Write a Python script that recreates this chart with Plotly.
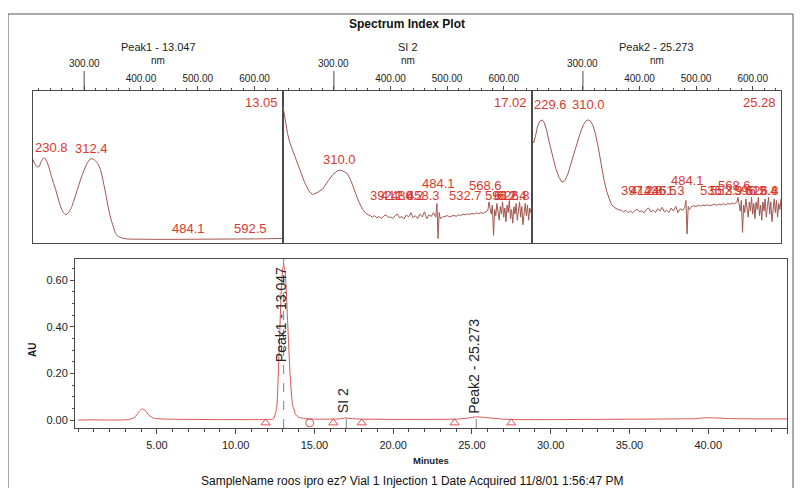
import plotly.graph_objects as go

# page margin of 8px on every side, so the figure is 16px smaller than the window
OFF = 8
W, H = 802 - 2 * OFF, 496 - 2 * OFF

# ---- chromatogram (minutes, AU) ----
chrom_min = [0, 1, 2, 3, 3.3, 3.6, 3.85, 4.05, 4.25, 4.5, 4.8, 5.5, 7, 9, 11, 12, 12.4, 12.6,
             12.75, 12.9, 13.0, 13.05, 13.15, 13.3, 13.45, 13.6, 13.8, 14.0, 14.3, 15, 16,
             16.6, 17.0, 17.4, 18, 20, 22, 24, 24.8, 25.3, 25.8, 27, 28, 30, 33, 36, 38,
             39.2, 39.8, 40.5, 41.5, 43, 45]
chrom_au = [0.0, 0.001, 0.0, 0.001, 0.004, 0.012, 0.036, 0.048, 0.042, 0.02, 0.008, 0.004, 0.003,
            0.002, 0.002, 0.002, 0.005, 0.05,
            0.28, 0.57, 0.655, 0.664, 0.63, 0.42, 0.2, 0.07, 0.025, 0.012, 0.007, 0.004, 0.004,
            0.005, 0.009, 0.006, 0.004, 0.003, 0.003, 0.004, 0.009, 0.014, 0.011, 0.004, 0.002,
            0.002, 0.003, 0.004, 0.005,
            0.006, 0.01, 0.009, 0.006, 0.005, 0.005]

peak_names = ["Peak1 - 13.047", "SI 2", "Peak2 - 25.273"]
peak_min = [13.047, 17.02, 25.273]
peak_label_au = [0.24, 0.02, 0.017]
peak_mark_au = [0.69, 0.035, 0.035]

event_min = [11.9, 14.7, 16.2, 18.0, 23.9, 27.5]
event_au = [-0.012, -0.012, -0.012, -0.012, -0.012, -0.012]

# ---- spectra (nm, relative absorbance) ----
spec1_wl = [210, 215, 220, 225, 230, 236, 243, 250, 256, 262, 268, 276, 282, 288, 294, 300,
            306, 312, 320, 327, 335, 345, 352, 357, 365, 375, 400, 450, 500, 550, 600, 650]
spec1_ab = [0.55, 0.51, 0.50, 0.54, 0.56, 0.52, 0.43, 0.35, 0.27, 0.21, 0.187, 0.22, 0.28, 0.35,
            0.42, 0.48, 0.53, 0.555, 0.54, 0.50, 0.38, 0.19, 0.10, 0.053, 0.035, 0.027, 0.025,
            0.024, 0.025, 0.026, 0.027, 0.03]

spec2_wl = [210, 214, 218, 222, 228, 234, 240, 248, 256, 262, 270, 280, 290, 298, 306, 312,
            318, 324, 330, 337, 344, 351, 358, 364, 368]
spec2_ab = [0.90, 0.80, 0.72, 0.66, 0.60, 0.53, 0.47, 0.40, 0.34, 0.32, 0.33, 0.355, 0.41, 0.45,
            0.475, 0.48, 0.47, 0.455, 0.41, 0.335, 0.27, 0.22, 0.19, 0.18, 0.17]

spec3_wl = [210, 213, 216, 220, 224, 228, 232, 236, 240, 246, 252, 258, 263, 268, 274, 281,
            288, 295, 301, 306, 310, 314, 318, 322, 327, 332, 337, 342, 346, 350, 355, 362, 368]
spec3_ab = [0.68, 0.66, 0.70, 0.77, 0.80, 0.81, 0.79, 0.74, 0.67, 0.58, 0.49, 0.43, 0.40, 0.41,
            0.46, 0.55, 0.64, 0.72, 0.78, 0.805, 0.81, 0.80, 0.77, 0.72, 0.63, 0.52, 0.42, 0.34,
            0.29, 0.255, 0.235, 0.22, 0.215]

noise_wl = [372, 376, 380, 384, 388, 392, 396, 400, 404, 408, 412, 416, 420, 424, 428, 432,
            436, 440, 444, 448, 452, 456, 460, 464, 468, 472, 476, 480,
            482, 484, 486, 488,
            492, 496, 500, 504, 508, 512, 516, 520, 524, 528, 532, 536, 540, 544, 548, 552,
            556, 560, 564, 568, 572,
            574, 576, 578, 580, 582, 584, 586, 588, 590, 592, 594, 596, 598, 600, 602, 604,
            606, 608, 610, 612, 614, 616, 618, 620, 622, 624, 626, 628, 630, 632, 634, 636,
            638, 640, 642, 644, 646, 648, 650]
noise2_ab = [0.18, 0.165, 0.175, 0.16, 0.178, 0.185, 0.168, 0.172, 0.16, 0.18, 0.19, 0.165,
             0.175, 0.158, 0.185, 0.17, 0.2, 0.165, 0.18, 0.16, 0.19, 0.172, 0.205, 0.16, 0.185,
             0.175, 0.2, 0.17,
             0.26, 0.03, 0.2, 0.16,
             0.17, 0.175, 0.18, 0.172, 0.178, 0.182, 0.175, 0.185, 0.18, 0.19, 0.185, 0.192,
             0.188, 0.195, 0.19, 0.198, 0.193, 0.2, 0.195, 0.205, 0.215,
             0.27, 0.24, 0.19, 0.25, 0.05, 0.22, 0.18, 0.26, 0.2, 0.15, 0.24, 0.19, 0.27, 0.17,
             0.23, 0.14, 0.25, 0.2, 0.28, 0.16, 0.22, 0.13, 0.24, 0.19, 0.26, 0.15, 0.21, 0.27,
             0.17, 0.24, 0.12, 0.22, 0.26, 0.18, 0.25, 0.15, 0.23, 0.2, 0.26]
noise3_ab = [0.205, 0.215, 0.2, 0.21, 0.198, 0.215, 0.222, 0.205, 0.212, 0.198, 0.22, 0.23,
             0.205, 0.215, 0.2, 0.225, 0.21, 0.235, 0.205, 0.215, 0.2, 0.23, 0.21, 0.24, 0.2,
             0.225, 0.215, 0.235,
             0.28, 0.06, 0.24, 0.22,
             0.24, 0.245, 0.24, 0.248, 0.243, 0.25, 0.246, 0.252, 0.245, 0.25, 0.255, 0.248,
             0.256, 0.25, 0.258, 0.252, 0.26, 0.255, 0.262, 0.258, 0.27,
             0.3, 0.25, 0.21, 0.28, 0.07, 0.25, 0.2, 0.29, 0.22, 0.17, 0.27, 0.21, 0.3, 0.19,
             0.26, 0.16, 0.27, 0.22, 0.3, 0.18, 0.25, 0.15, 0.27, 0.21, 0.29, 0.17, 0.24, 0.3,
             0.19, 0.27, 0.14, 0.25, 0.29, 0.2, 0.28, 0.17, 0.26, 0.22, 0.29]

spec_titles = ["Peak1 - 13.047", "SI 2", "Peak2 - 25.273"]
spec_times = ["13.05", "17.02", "25.28"]

p1_lab_text = ["230.8", "312.4", "484.1", "592.5"]
p1_lab_wl = [230.8, 312.4, 484.1, 592.5]
p1_lab_ab = [0.56, 0.555, 0.025, 0.027]

p2_lab_text = ["310.0", "392.1", "412.6", "430.2", "458.3", "484.1", "532.7", "568.6",
               "596.2", "612.4", "626.8"]
p2_lab_wl = [310.0, 392.1, 412.6, 430.2, 458.3, 484.1, 532.7, 568.6, 596.2, 612.4, 626.8]
p2_lab_ab = [0.48, 0.245, 0.245, 0.245, 0.245, 0.32, 0.245, 0.31, 0.245, 0.245, 0.245]

p3_lab_text = ["229.6", "310.0", "397.2", "412.8", "436.5", "451.3", "484.1", "535.3",
               "552.9", "568.6", "596.2", "615.4", "626.8"]
p3_lab_wl = [229.6, 310.0, 397.2, 412.8, 436.5, 451.3, 484.1, 535.3, 552.9, 568.6, 596.2,
             615.4, 626.8]
p3_lab_ab = [0.84, 0.84, 0.275, 0.275, 0.275, 0.275, 0.34, 0.275, 0.275, 0.31, 0.275, 0.275,
             0.275]

footer = "SampleName roos ipro ez? Vial 1 Injection 1 Date Acquired 11/8/01 1:56:47 PM"

# ---- styling ----
FONT = "Liberation Sans, Arial, sans-serif"
FRAME = "#4a4a4a"
RED_TXT = "#d8382f"
CHROM_LINE = "#d95550"
SPEC_LINE = "#a05850"
WL_RANGE = [210, 650]
Y_LO, Y_HI = -0.034, 0.69


def px(x):
    return (x - OFF) / W


def py(y):
    return 1 - (y - OFF) / H


SPEC_X = [(33, 283), (283, 532), (532, 781)]
SPEC_Y = (91, 243)
CHROM_X = (75, 787)
CHROM_Y = (259, 428)


def note(x, y, text, size, color="#222", **kw):
    fig.add_annotation(x=px(x), y=py(y), xref="paper", yref="paper", text=text,
                       showarrow=False, xanchor=kw.pop("xanchor", "center"),
                       yanchor=kw.pop("yanchor", "middle"),
                       font=dict(size=size, color=color, family=FONT), **kw)


fig = go.Figure()

# chromatogram
fig.add_trace(go.Scatter(x=chrom_min, y=chrom_au, mode="lines", xaxis="x", yaxis="y",
                         line=dict(color=CHROM_LINE, width=1, shape="spline", smoothing=0.4),
                         hoverinfo="skip"))
for t, top in zip(peak_min, peak_mark_au):
    fig.add_trace(go.Scatter(x=[t, t], y=[Y_LO, top], mode="lines", xaxis="x", yaxis="y",
                             line=dict(color="#808080", width=1, dash="dash"),
                             hoverinfo="skip"))
event_sym = ["triangle-up-open", "circle-open", "triangle-up-open", "triangle-up-open",
             "triangle-up-open", "triangle-up-open"]
fig.add_trace(go.Scatter(x=event_min, y=event_au, mode="markers", xaxis="x", yaxis="y",
                         marker=dict(symbol=event_sym, size=8, color=CHROM_LINE,
                                     line=dict(width=1)),
                         hoverinfo="skip"))
for name, t, y0 in zip(peak_names, peak_min, peak_label_au):
    fig.add_annotation(x=t, y=y0, xref="x", yref="y", text=name, textangle=-90,
                       showarrow=False, xanchor="center", yanchor="bottom", xshift=-3,
                       font=dict(size=14, color="#222", family=FONT))

# spectra
spectra = [
    (spec1_wl, spec1_ab, p1_lab_text, p1_lab_wl, p1_lab_ab),
    (spec2_wl + noise_wl, spec2_ab + noise2_ab, p2_lab_text, p2_lab_wl, p2_lab_ab),
    (spec3_wl + noise_wl, spec3_ab + noise3_ab, p3_lab_text, p3_lab_wl, p3_lab_ab),
]

axes = {}
for i, (wl, ab, ltext, lwl, lab) in enumerate(spectra):
    n = i + 2
    x0, x1 = SPEC_X[i]
    fig.add_trace(go.Scatter(x=wl, y=ab, mode="lines", xaxis=f"x{n}", yaxis=f"y{n}",
                             line=dict(color=SPEC_LINE, width=1,
                                       shape="spline" if i == 0 else "linear"),
                             hoverinfo="skip"))
    axes[f"xaxis{n}"] = dict(
        domain=[px(x0), px(x1)], range=WL_RANGE, anchor=f"y{n}", side="top",
        showline=True, mirror=True, linecolor=FRAME, linewidth=1,
        tickvals=[300, 400, 500, 600], ticktext=["", "400.00", "500.00", "600.00"],
        ticks="outside", ticklen=4, tickcolor=FRAME,
        minor=dict(tickmode="linear", tick0=200, dtick=20, ticks="outside", ticklen=2,
                   tickcolor=FRAME),
        tickfont=dict(size=10, color="#222", family=FONT),
        showgrid=False, zeroline=False, fixedrange=True)
    axes[f"yaxis{n}"] = dict(
        domain=[py(SPEC_Y[1]), py(SPEC_Y[0])], range=[0, 1], anchor=f"x{n}",
        showline=True, mirror=True, linecolor=FRAME, linewidth=1,
        showticklabels=False, ticks="", showgrid=False, zeroline=False, fixedrange=True)

    # long tick and staggered label for 300 nm
    fig.add_shape(type="line", xref=f"x{n}", yref="paper", x0=300, x1=300,
                  y0=py(SPEC_Y[0]), y1=py(71), line=dict(color=FRAME, width=1))
    fig.add_annotation(x=300, y=py(63), xref=f"x{n}", yref="paper", text="300.00",
                       showarrow=False, xanchor="center", yanchor="middle",
                       font=dict(size=10, color="#222", family=FONT))
    cx = (x0 + x1) / 2
    note(cx, 47, spec_titles[i], 11)
    note(cx, 61, "nm", 10)
    note(x1 - 3, SPEC_Y[0] + 2, spec_times[i], 13, RED_TXT, xanchor="right", yanchor="top")

    for t, w, a in zip(ltext, lwl, lab):
        if w < 240:
            xa, xv = "left", WL_RANGE[0]
        elif w > 620:
            xa, xv = "right", WL_RANGE[1]
        else:
            xa, xv = "center", w
        fig.add_annotation(x=xv, y=a, xref=f"x{n}", yref=f"y{n}", text=t, showarrow=False,
                           xanchor=xa, yanchor="bottom", yshift=1,
                           font=dict(size=13, color=RED_TXT, family=FONT))

# titles and footer
note(407, 24, "<b>Spectrum Index Plot</b>", 12, "#111")
note(32, 350, "<b>AU</b>", 10, textangle=-90)
note(431, 460, "<b>Minutes</b>", 9.5)
note(412, 481, footer, 12, "#111")

# outer frame
fig.add_shape(type="rect", xref="paper", yref="paper", x0=px(8), x1=px(793), y0=py(489),
              y1=py(14), line=dict(color="#555", width=1))

fig.update_layout(
    width=W, height=H, autosize=False,
    margin=dict(l=0, r=0, t=0, b=0),
    paper_bgcolor="white", plot_bgcolor="white",
    showlegend=False,
    font=dict(family=FONT, color="#222"),
    xaxis=dict(domain=[px(CHROM_X[0]), px(CHROM_X[1])], range=[-0.2, 45], anchor="y",
               showline=True, mirror=True, linecolor=FRAME, linewidth=1,
               tickvals=[5, 10, 15, 20, 25, 30, 35, 40, 45], tickformat=".2f",
               ticks="outside", ticklen=5, tickcolor=FRAME, ticklabelstandoff=2,
               minor=dict(tickmode="linear", tick0=0, dtick=1, ticks="outside", ticklen=3,
                          tickcolor=FRAME),
               tickfont=dict(size=11, color="#222", family=FONT),
               showgrid=False, zeroline=False, fixedrange=True),
    yaxis=dict(domain=[py(CHROM_Y[1]), py(CHROM_Y[0])], range=[Y_LO, Y_HI], anchor="x",
               showline=True, mirror=True, linecolor=FRAME, linewidth=1,
               tickvals=[0, 0.2, 0.4, 0.6], tickformat=".2f",
               ticks="outside", ticklen=4, tickcolor=FRAME,
               minor=dict(tickmode="linear", tick0=0, dtick=0.05, ticks="outside", ticklen=2,
                          tickcolor=FRAME),
               tickfont=dict(size=11, color="#222", family=FONT),
               showgrid=False, zeroline=False, fixedrange=True),
    **axes,
)

fig.write_html("out.html")
